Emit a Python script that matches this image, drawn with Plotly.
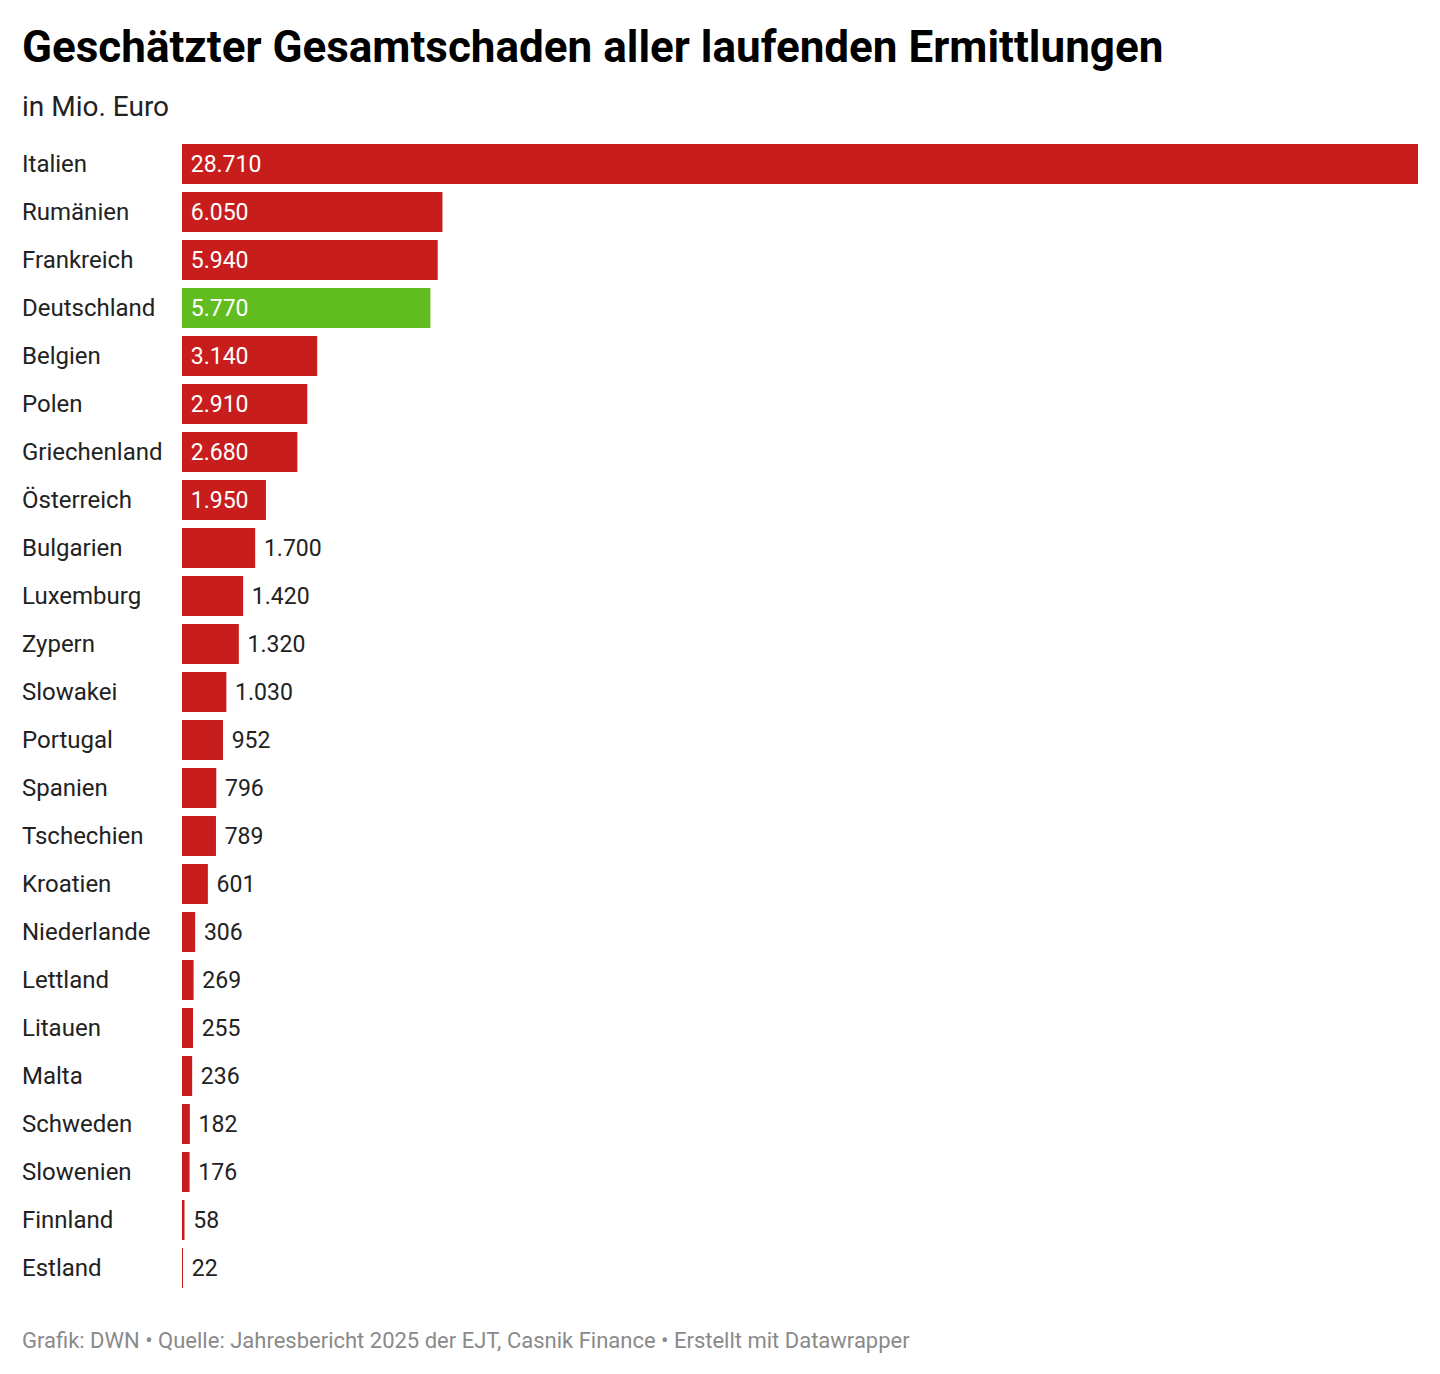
import plotly.graph_objects as go

laender = ["Italien", "Rumänien", "Frankreich", "Deutschland", "Belgien", "Polen",
           "Griechenland", "Österreich", "Bulgarien", "Luxemburg", "Zypern", "Slowakei",
           "Portugal", "Spanien", "Tschechien", "Kroatien", "Niederlande", "Lettland",
           "Litauen", "Malta", "Schweden", "Slowenien", "Finnland", "Estland"]
schaden = [28710, 6050, 5940, 5770, 3140, 2910, 2680, 1950, 1700, 1420, 1320, 1030,
           952, 796, 789, 601, 306, 269, 255, 236, 182, 176, 58, 22]
hervorgehoben = "Deutschland"

rot = "#c71e1d"
gruen = "#61bc1f"
farben = [gruen if l == hervorgehoben else rot for l in laender]
# grosse Balken: Wert innen, sonst daneben
innen = [v >= 1900 for v in schaden]
pos = ["inside" if i else "outside" for i in innen]

fig = go.Figure()
fig.add_trace(go.Bar(
    x=schaden, y=laender, orientation="h",
    marker=dict(color=farben, line=dict(width=0)),
    texttemplate=" %{x:,.0f}", textposition=pos, insidetextanchor="start",
    insidetextfont=dict(family="Roboto", size=23, color="white"),
    outsidetextfont=dict(family="Roboto", size=23, color="#222222"),
    cliponaxis=False, hoverinfo="skip",
))

# Seite hat 8px Rand, daher alles um 8px verschoben
l_px, r_px = 174, 30
top_px, bottom_px = 132, 90
breite = 1440 - l_px - r_px
hoehe = 1374 - top_px - bottom_px

def py(y):
    return 1 + (top_px - y) / hoehe

def px_(x):
    return (x - l_px) / breite

for land in laender:
    fig.add_annotation(x=px_(12), xref="paper", y=land, yref="y",
                       text=land, showarrow=False, xanchor="left",
                       font=dict(family="Roboto", size=24, color="#222222"))

fig.add_annotation(x=px_(12), y=py(39), xref="paper", yref="paper", xanchor="left", yanchor="middle",
                   text="<b>Geschätzter Gesamtschaden aller laufenden Ermittlungen</b>", showarrow=False,
                   font=dict(family="Roboto", size=44, color="#000000"))
fig.add_annotation(x=px_(12), y=py(98), xref="paper", yref="paper", xanchor="left", yanchor="middle",
                   text="in Mio. Euro", showarrow=False,
                   font=dict(family="Roboto", size=28, color="#222222"))
fig.add_annotation(x=px_(12), y=py(1332), xref="paper", yref="paper", xanchor="left", yanchor="middle",
                   text="Grafik: DWN • Quelle: Jahresbericht 2025 der EJT, Casnik Finance • Erstellt mit Datawrapper",
                   showarrow=False, font=dict(family="Roboto", size=22, color="#8a8a8a"))

fig.update_layout(
    width=1440, height=1374,
    margin=dict(l=l_px, r=r_px, t=top_px, b=bottom_px, pad=0),
    paper_bgcolor="white", plot_bgcolor="white",
    separators=",.",
    bargap=8 / 48,
    showlegend=False,
    xaxis=dict(range=[0, max(schaden)], visible=False, fixedrange=True),
    yaxis=dict(autorange="reversed", showticklabels=False, showgrid=False, zeroline=False,
               fixedrange=True),
    font=dict(family="Roboto"),
)

fig.write_html("out.html")
